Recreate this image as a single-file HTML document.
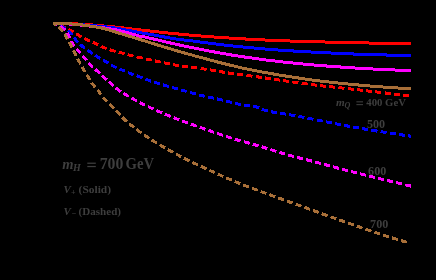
<!DOCTYPE html>
<html><head><meta charset="utf-8"><style>
html,body{margin:0;padding:0;background:#000;}
body{width:436px;height:280px;overflow:hidden;position:relative;}
svg{position:absolute;left:0;top:0;}
#tx{will-change:transform;}
</style></head><body>
<svg width="436" height="280" viewBox="0 0 436 280" shape-rendering="crispEdges" stroke="none">
<path fill="#ff0000" d="M53 22h25v1h-25zM53 23h40v1h-40zM53 24h51v1h-51zM78 25h37v1h-37zM93 26h31v1h-31zM104 27h28v1h-28zM115 28h26v1h-26zM123 29h27v1h-27zM132 30h27v1h-27zM141 31h27v1h-27zM150 32h29v1h-29zM159 33h30v1h-30zM168 34h33v1h-33zM178 35h36v1h-36zM189 36h40v1h-40zM201 37h45v1h-45zM214 38h51v1h-51zM229 39h61v1h-61zM245 40h80v1h-80zM265 41h104v1h-104zM290 42h121v1h-121zM325 43h86v1h-86zM369 44h42v1h-42z"/>
<path fill="#ff0000" d="M53 22h3v1h-3zM53 23h4v1h-4zM53 24h4v1h-4zM60 24h1v1h-1zM55 25h1v1h-1zM60 25h4v1h-4zM59 26h7v1h-7zM61 27h4v1h-4zM63 28h2v1h-2zM69 28h1v1h-1zM68 29h4v1h-4zM68 30h6v1h-6zM70 31h4v1h-4zM72 32h1v1h-1zM76 33h3v1h-3zM76 34h4v1h-4zM76 35h6v1h-6zM78 36h4v1h-4zM79 37h2v1h-2zM85 37h1v1h-1zM84 38h4v1h-4zM84 39h6v1h-6zM85 40h5v1h-5zM87 41h3v1h-3zM93 41h2v1h-2zM93 42h4v1h-4zM92 43h7v1h-7zM94 44h4v1h-4zM96 45h2v1h-2zM102 45h1v1h-1zM101 46h4v1h-4zM100 47h7v1h-7zM102 48h5v1h-5zM110 48h1v1h-1zM105 49h1v1h-1zM110 49h4v1h-4zM109 50h7v1h-7zM110 51h6v1h-6zM119 51h3v1h-3zM114 52h1v1h-1zM119 52h6v1h-6zM118 53h7v1h-7zM128 53h1v1h-1zM122 54h2v1h-2zM128 54h5v1h-5zM127 55h7v1h-7zM129 56h4v1h-4zM137 56h5v1h-5zM136 57h7v1h-7zM137 58h6v1h-6zM146 58h5v1h-5zM146 59h6v1h-6zM155 59h1v1h-1zM146 60h6v1h-6zM155 60h5v1h-5zM155 61h6v1h-6zM164 61h1v1h-1zM155 62h6v1h-6zM164 62h6v1h-6zM164 63h6v1h-6zM173 63h2v1h-2zM165 64h5v1h-5zM173 64h6v1h-6zM173 65h6v1h-6zM182 65h6v1h-6zM175 66h4v1h-4zM182 66h6v1h-6zM191 66h6v1h-6zM182 67h6v1h-6zM191 67h6v1h-6zM201 67h3v1h-3zM191 68h6v1h-6zM201 68h6v1h-6zM210 68h1v1h-1zM200 69h7v1h-7zM210 69h6v1h-6zM204 70h2v1h-2zM210 70h6v1h-6zM219 70h4v1h-4zM211 71h5v1h-5zM219 71h6v1h-6zM228 71h1v1h-1zM219 72h6v1h-6zM228 72h6v1h-6zM222 73h3v1h-3zM228 73h6v1h-6zM237 73h6v1h-6zM228 74h6v1h-6zM237 74h6v1h-6zM247 74h4v1h-4zM237 75h6v1h-6zM246 75h7v1h-7zM256 75h3v1h-3zM246 76h6v1h-6zM256 76h6v1h-6zM265 76h1v1h-1zM251 77h1v1h-1zM256 77h6v1h-6zM265 77h6v1h-6zM258 78h4v1h-4zM265 78h6v1h-6zM274 78h5v1h-5zM265 79h6v1h-6zM274 79h6v1h-6zM283 79h3v1h-3zM274 80h6v1h-6zM283 80h6v1h-6zM279 81h1v1h-1zM283 81h6v1h-6zM292 81h7v1h-7zM286 82h3v1h-3zM292 82h6v1h-6zM302 82h5v1h-5zM293 83h5v1h-5zM302 83h6v1h-6zM311 83h4v1h-4zM301 84h7v1h-7zM311 84h6v1h-6zM320 84h3v1h-3zM311 85h6v1h-6zM320 85h6v1h-6zM329 85h4v1h-4zM315 86h2v1h-2zM320 86h6v1h-6zM329 86h6v1h-6zM339 86h3v1h-3zM323 87h3v1h-3zM329 87h6v1h-6zM338 87h7v1h-7zM348 87h3v1h-3zM333 88h2v1h-2zM338 88h6v1h-6zM348 88h6v1h-6zM357 88h3v1h-3zM342 89h2v1h-2zM348 89h6v1h-6zM357 89h6v1h-6zM366 89h2v1h-2zM351 90h3v1h-3zM357 90h6v1h-6zM366 90h6v1h-6zM375 90h2v1h-2zM360 91h3v1h-3zM366 91h6v1h-6zM375 91h6v1h-6zM385 91h1v1h-1zM368 92h4v1h-4zM375 92h6v1h-6zM385 92h6v1h-6zM377 93h4v1h-4zM385 93h6v1h-6zM394 93h6v1h-6zM385 94h6v1h-6zM394 94h6v1h-6zM403 94h6v1h-6zM394 95h6v1h-6zM403 95h6v1h-6zM403 96h6v1h-6z"/>
<path fill="#0000ff" d="M53 22h18v1h-18zM53 23h32v1h-32zM53 24h44v1h-44zM71 25h36v1h-36zM85 26h30v1h-30zM97 27h24v1h-24zM107 28h19v1h-19zM114 29h18v1h-18zM121 30h16v1h-16zM126 31h16v1h-16zM131 32h17v1h-17zM137 33h17v1h-17zM142 34h17v1h-17zM148 35h17v1h-17zM154 36h16v1h-16zM159 37h17v1h-17zM164 38h20v1h-20zM170 39h23v1h-23zM176 40h24v1h-24zM184 41h24v1h-24zM193 42h23v1h-23zM200 43h24v1h-24zM208 44h25v1h-25zM216 45h27v1h-27zM224 46h30v1h-30zM233 47h32v1h-32zM243 48h35v1h-35zM254 49h40v1h-40zM265 50h46v1h-46zM278 51h53v1h-53zM293 52h61v1h-61zM311 53h76v1h-76zM331 54h80v1h-80zM353 55h58v1h-58zM386 56h25v1h-25z"/>
<path fill="#0000ff" d="M53 22h4v1h-4zM53 23h4v1h-4zM53 24h4v1h-4zM56 25h1v1h-1zM60 25h3v1h-3zM60 26h5v1h-5zM61 27h5v1h-5zM62 28h3v1h-3zM64 29h1v1h-1zM68 30h2v1h-2zM67 31h4v1h-4zM68 32h4v1h-4zM69 33h4v1h-4zM70 34h3v1h-3zM74 37h2v1h-2zM73 38h4v1h-4zM74 39h3v1h-3zM74 40h4v1h-4zM75 41h4v1h-4zM76 42h2v1h-2zM80 44h3v1h-3zM79 45h5v1h-5zM80 46h5v1h-5zM81 47h4v1h-4zM83 48h2v1h-2zM88 49h1v1h-1zM87 50h4v1h-4zM87 51h5v1h-5zM88 52h5v1h-5zM90 53h3v1h-3zM91 54h1v1h-1zM96 54h1v1h-1zM95 55h3v1h-3zM94 56h6v1h-6zM96 57h5v1h-5zM97 58h3v1h-3zM99 59h1v1h-1zM103 59h2v1h-2zM103 60h4v1h-4zM103 61h6v1h-6zM104 62h5v1h-5zM106 63h2v1h-2zM111 64h2v1h-2zM111 65h4v1h-4zM111 66h6v1h-6zM113 67h4v1h-4zM115 68h1v1h-1zM120 68h2v1h-2zM119 69h6v1h-6zM119 70h6v1h-6zM122 71h3v1h-3zM128 71h1v1h-1zM128 72h4v1h-4zM128 73h6v1h-6zM129 74h5v1h-5zM137 74h1v1h-1zM131 75h2v1h-2zM137 75h3v1h-3zM136 76h7v1h-7zM137 77h6v1h-6zM140 78h2v1h-2zM146 78h2v1h-2zM145 79h6v1h-6zM145 80h6v1h-6zM148 81h3v1h-3zM154 81h3v1h-3zM150 82h1v1h-1zM154 82h6v1h-6zM154 83h6v1h-6zM163 83h1v1h-1zM157 84h3v1h-3zM163 84h4v1h-4zM163 85h6v1h-6zM163 86h6v1h-6zM172 86h2v1h-2zM167 87h2v1h-2zM172 87h6v1h-6zM172 88h6v1h-6zM174 89h4v1h-4zM181 89h4v1h-4zM181 90h6v1h-6zM181 91h6v1h-6zM190 91h2v1h-2zM185 92h1v1h-1zM190 92h6v1h-6zM190 93h6v1h-6zM192 94h4v1h-4zM199 94h5v1h-5zM199 95h6v1h-6zM199 96h6v1h-6zM208 96h5v1h-5zM203 97h1v1h-1zM208 97h6v1h-6zM217 97h1v1h-1zM208 98h6v1h-6zM217 98h5v1h-5zM213 99h1v1h-1zM217 99h6v1h-6zM217 100h6v1h-6zM226 100h4v1h-4zM222 101h1v1h-1zM226 101h6v1h-6zM226 102h6v1h-6zM235 102h3v1h-3zM230 103h2v1h-2zM235 103h6v1h-6zM235 104h6v1h-6zM244 104h6v1h-6zM238 105h3v1h-3zM244 105h6v1h-6zM253 105h4v1h-4zM244 106h6v1h-6zM253 106h7v1h-7zM253 107h6v1h-6zM256 108h3v1h-3zM262 108h2v1h-2zM262 109h6v1h-6zM261 110h7v1h-7zM271 110h2v1h-2zM264 111h4v1h-4zM271 111h6v1h-6zM271 112h6v1h-6zM280 112h5v1h-5zM272 113h5v1h-5zM280 113h6v1h-6zM289 113h2v1h-2zM280 114h6v1h-6zM289 114h7v1h-7zM285 115h1v1h-1zM289 115h6v1h-6zM299 115h3v1h-3zM291 116h4v1h-4zM298 116h7v1h-7zM298 117h6v1h-6zM308 117h4v1h-4zM302 118h2v1h-2zM307 118h7v1h-7zM307 119h6v1h-6zM317 119h5v1h-5zM312 120h1v1h-1zM317 120h6v1h-6zM326 120h1v1h-1zM317 121h6v1h-6zM326 121h6v1h-6zM326 122h6v1h-6zM335 122h2v1h-2zM327 123h5v1h-5zM335 123h6v1h-6zM335 124h6v1h-6zM344 124h4v1h-4zM337 125h4v1h-4zM344 125h6v1h-6zM344 126h6v1h-6zM353 126h6v1h-6zM347 127h3v1h-3zM353 127h6v1h-6zM362 127h3v1h-3zM353 128h6v1h-6zM362 128h6v1h-6zM362 129h6v1h-6zM371 129h6v1h-6zM364 130h4v1h-4zM371 130h7v1h-7zM381 130h2v1h-2zM371 131h6v1h-6zM381 131h6v1h-6zM376 132h1v1h-1zM380 132h7v1h-7zM390 132h6v1h-6zM383 133h3v1h-3zM390 133h6v1h-6zM399 133h4v1h-4zM390 134h6v1h-6zM399 134h6v1h-6zM408 134h2v1h-2zM399 135h6v1h-6zM408 135h3v1h-3zM402 136h3v1h-3zM408 136h3v1h-3zM409 137h2v1h-2z"/>
<path fill="#ff00ff" d="M53 22h16v1h-16zM53 23h28v1h-28zM53 24h36v1h-36zM69 25h28v1h-28zM80 26h25v1h-25zM89 27h22v1h-22zM97 28h20v1h-20zM105 29h16v1h-16zM111 30h14v1h-14zM116 31h13v1h-13zM121 32h11v1h-11zM125 33h11v1h-11zM128 34h11v1h-11zM132 35h13v1h-13zM136 36h13v1h-13zM139 37h15v1h-15zM145 38h13v1h-13zM149 39h13v1h-13zM153 40h13v1h-13zM158 41h13v1h-13zM162 42h13v1h-13zM166 43h14v1h-14zM170 44h14v1h-14zM175 45h14v1h-14zM179 46h15v1h-15zM184 47h15v1h-15zM189 48h15v1h-15zM194 49h15v1h-15zM199 50h16v1h-16zM204 51h16v1h-16zM209 52h17v1h-17zM214 53h18v1h-18zM220 54h18v1h-18zM226 55h19v1h-19zM231 56h21v1h-21zM238 57h21v1h-21zM244 58h22v1h-22zM252 59h23v1h-23zM259 60h24v1h-24zM266 61h27v1h-27zM275 62h28v1h-28zM283 63h31v1h-31zM293 64h34v1h-34zM303 65h38v1h-38zM314 66h41v1h-41zM326 67h47v1h-47zM340 68h55v1h-55zM355 69h56v1h-56zM373 70h38v1h-38zM395 71h16v1h-16z"/>
<path fill="#ff00ff" d="M53 22h3v1h-3zM53 23h5v1h-5zM53 24h5v1h-5zM56 25h1v1h-1zM61 25h1v1h-1zM60 26h3v1h-3zM60 27h4v1h-4zM61 28h5v1h-5zM62 29h4v1h-4zM63 30h2v1h-2zM68 32h1v1h-1zM66 33h3v1h-3zM66 34h4v1h-4zM67 35h3v1h-3zM67 36h4v1h-4zM68 37h3v1h-3zM68 38h1v1h-1zM70 41h3v1h-3zM70 42h4v1h-4zM71 43h3v1h-3zM71 44h4v1h-4zM72 45h3v1h-3zM73 46h1v1h-1zM77 48h1v1h-1zM76 49h3v1h-3zM76 50h4v1h-4zM77 51h4v1h-4zM78 52h3v1h-3zM79 53h1v1h-1zM83 55h1v1h-1zM82 56h3v1h-3zM82 57h4v1h-4zM83 58h4v1h-4zM84 59h4v1h-4zM85 60h1v1h-1zM89 62h1v1h-1zM88 63h3v1h-3zM88 64h4v1h-4zM89 65h4v1h-4zM90 66h3v1h-3zM91 67h2v1h-2zM96 68h1v1h-1zM95 69h3v1h-3zM94 70h5v1h-5zM95 71h5v1h-5zM97 72h4v1h-4zM98 73h2v1h-2zM102 75h2v1h-2zM101 76h4v1h-4zM102 77h4v1h-4zM103 78h5v1h-5zM104 79h3v1h-3zM105 80h1v1h-1zM109 81h2v1h-2zM108 82h4v1h-4zM109 83h4v1h-4zM110 84h4v1h-4zM111 85h3v1h-3zM112 86h1v1h-1zM116 87h2v1h-2zM115 88h4v1h-4zM115 89h5v1h-5zM117 90h5v1h-5zM118 91h3v1h-3zM119 92h1v1h-1zM124 92h1v1h-1zM123 93h4v1h-4zM123 94h5v1h-5zM124 95h5v1h-5zM126 96h3v1h-3zM132 97h2v1h-2zM131 98h4v1h-4zM131 99h6v1h-6zM133 100h4v1h-4zM135 101h2v1h-2zM140 101h1v1h-1zM140 102h3v1h-3zM139 103h6v1h-6zM140 104h5v1h-5zM142 105h3v1h-3zM148 105h1v1h-1zM148 106h3v1h-3zM148 107h6v1h-6zM149 108h5v1h-5zM151 109h2v1h-2zM157 109h1v1h-1zM156 110h4v1h-4zM156 111h7v1h-7zM157 112h5v1h-5zM160 113h2v1h-2zM165 113h2v1h-2zM165 114h5v1h-5zM164 115h7v1h-7zM167 116h4v1h-4zM174 116h1v1h-1zM169 117h1v1h-1zM174 117h3v1h-3zM173 118h7v1h-7zM174 119h5v1h-5zM177 120h2v1h-2zM182 120h3v1h-3zM182 121h6v1h-6zM182 122h6v1h-6zM185 123h3v1h-3zM191 123h3v1h-3zM191 124h5v1h-5zM190 125h7v1h-7zM193 126h4v1h-4zM200 126h2v1h-2zM200 127h5v1h-5zM199 128h7v1h-7zM202 129h3v1h-3zM209 129h2v1h-2zM204 130h1v1h-1zM208 130h5v1h-5zM208 131h6v1h-6zM210 132h4v1h-4zM217 132h2v1h-2zM213 133h1v1h-1zM217 133h5v1h-5zM217 134h6v1h-6zM219 135h4v1h-4zM226 135h2v1h-2zM222 136h1v1h-1zM226 136h5v1h-5zM226 137h6v1h-6zM228 138h4v1h-4zM235 138h3v1h-3zM235 139h6v1h-6zM234 140h7v1h-7zM244 140h1v1h-1zM237 141h3v1h-3zM244 141h5v1h-5zM244 142h6v1h-6zM245 143h5v1h-5zM253 143h3v1h-3zM248 144h1v1h-1zM253 144h6v1h-6zM252 145h7v1h-7zM262 145h1v1h-1zM255 146h3v1h-3zM262 146h4v1h-4zM261 147h7v1h-7zM262 148h5v1h-5zM271 148h1v1h-1zM265 149h2v1h-2zM270 149h5v1h-5zM270 150h7v1h-7zM272 151h4v1h-4zM280 151h2v1h-2zM275 152h1v1h-1zM279 152h6v1h-6zM279 153h6v1h-6zM281 154h4v1h-4zM288 154h4v1h-4zM288 155h6v1h-6zM288 156h6v1h-6zM297 156h3v1h-3zM292 157h2v1h-2zM297 157h6v1h-6zM297 158h6v1h-6zM306 158h2v1h-2zM299 159h4v1h-4zM306 159h6v1h-6zM306 160h6v1h-6zM307 161h5v1h-5zM315 161h4v1h-4zM311 162h1v1h-1zM315 162h6v1h-6zM315 163h6v1h-6zM324 163h3v1h-3zM319 164h2v1h-2zM324 164h6v1h-6zM324 165h6v1h-6zM333 165h1v1h-1zM326 166h4v1h-4zM333 166h5v1h-5zM333 167h6v1h-6zM334 168h5v1h-5zM342 168h3v1h-3zM337 169h2v1h-2zM342 169h6v1h-6zM342 170h6v1h-6zM351 170h2v1h-2zM345 171h3v1h-3zM351 171h6v1h-6zM351 172h6v1h-6zM360 172h1v1h-1zM353 173h4v1h-4zM360 173h5v1h-5zM360 174h6v1h-6zM361 175h5v1h-5zM369 175h4v1h-4zM365 176h1v1h-1zM369 176h6v1h-6zM369 177h6v1h-6zM378 177h3v1h-3zM373 178h2v1h-2zM378 178h6v1h-6zM378 179h6v1h-6zM387 179h3v1h-3zM381 180h3v1h-3zM387 180h6v1h-6zM387 181h6v1h-6zM396 181h2v1h-2zM389 182h4v1h-4zM396 182h6v1h-6zM396 183h6v1h-6zM398 184h4v1h-4zM405 184h6v1h-6zM405 185h6v1h-6zM406 186h5v1h-5zM410 187h1v1h-1z"/>
<path fill="#a86f38" d="M53 22h19v1h-19zM53 23h30v1h-30zM53 24h37v1h-37zM72 25h24v1h-24zM82 26h20v1h-20zM90 27h16v1h-16zM96 28h13v1h-13zM101 29h11v1h-11zM105 30h11v1h-11zM109 31h10v1h-10zM112 32h10v1h-10zM115 33h11v1h-11zM118 34h11v1h-11zM122 35h10v1h-10zM125 36h10v1h-10zM128 37h11v1h-11zM132 38h10v1h-10zM135 39h10v1h-10zM138 40h10v1h-10zM141 41h10v1h-10zM145 42h10v1h-10zM148 43h10v1h-10zM151 44h10v1h-10zM154 45h10v1h-10zM157 46h11v1h-11zM161 47h10v1h-10zM164 48h10v1h-10zM167 49h11v1h-11zM171 50h10v1h-10zM174 51h11v1h-11zM177 52h11v1h-11zM181 53h11v1h-11zM184 54h11v1h-11zM188 55h11v1h-11zM192 56h11v1h-11zM195 57h12v1h-12zM199 58h11v1h-11zM203 59h11v1h-11zM206 60h12v1h-12zM210 61h12v1h-12zM214 62h12v1h-12zM217 63h13v1h-13zM221 64h13v1h-13zM225 65h13v1h-13zM229 66h13v1h-13zM234 67h13v1h-13zM238 68h14v1h-14zM242 69h15v1h-15zM247 70h15v1h-15zM252 71h16v1h-16zM257 72h17v1h-17zM262 73h17v1h-17zM268 74h18v1h-18zM273 75h19v1h-19zM279 76h20v1h-20zM285 77h20v1h-20zM292 78h20v1h-20zM298 79h22v1h-22zM305 80h24v1h-24zM312 81h26v1h-26zM320 82h28v1h-28zM329 83h30v1h-30zM338 84h32v1h-32zM348 85h35v1h-35zM358 86h40v1h-40zM370 87h41v1h-41zM383 88h28v1h-28zM398 89h13v1h-13z"/>
<path fill="#a86f38" d="M53 22h2v1h-2zM53 23h4v1h-4zM53 24h3v1h-3zM54 25h2v1h-2zM59 26h1v1h-1zM58 27h3v1h-3zM58 28h4v1h-4zM59 29h4v1h-4zM60 30h4v1h-4zM61 31h2v1h-2zM65 33h1v1h-1zM64 34h3v1h-3zM64 35h3v1h-3zM64 36h4v1h-4zM65 37h3v1h-3zM65 38h4v1h-4zM66 39h1v1h-1zM68 42h3v1h-3zM68 43h4v1h-4zM69 44h3v1h-3zM69 45h4v1h-4zM70 46h3v1h-3zM70 47h2v1h-2zM73 50h2v1h-2zM72 51h4v1h-4zM73 52h3v1h-3zM73 53h4v1h-4zM74 54h3v1h-3zM74 55h3v1h-3zM78 58h1v1h-1zM76 59h4v1h-4zM77 60h3v1h-3zM77 61h4v1h-4zM78 62h3v1h-3zM79 63h2v1h-2zM79 64h1v1h-1zM83 66h1v1h-1zM81 67h3v1h-3zM81 68h4v1h-4zM82 69h3v1h-3zM82 70h4v1h-4zM83 71h3v1h-3zM87 74h1v1h-1zM86 75h3v1h-3zM86 76h4v1h-4zM87 77h3v1h-3zM87 78h4v1h-4zM88 79h3v1h-3zM92 82h1v1h-1zM90 83h4v1h-4zM91 84h4v1h-4zM92 85h4v1h-4zM93 86h3v1h-3zM93 87h2v1h-2zM98 89h1v1h-1zM97 90h3v1h-3zM97 91h4v1h-4zM98 92h3v1h-3zM98 93h4v1h-4zM99 94h2v1h-2zM103 97h2v1h-2zM102 98h4v1h-4zM103 99h4v1h-4zM104 100h4v1h-4zM105 101h2v1h-2zM110 103h1v1h-1zM109 104h3v1h-3zM109 105h4v1h-4zM110 106h4v1h-4zM111 107h4v1h-4zM112 108h2v1h-2zM116 110h2v1h-2zM115 111h4v1h-4zM116 112h4v1h-4zM117 113h4v1h-4zM118 114h3v1h-3zM119 115h1v1h-1zM123 116h1v1h-1zM122 117h3v1h-3zM121 118h5v1h-5zM122 119h5v1h-5zM123 120h5v1h-5zM124 121h3v1h-3zM129 123h2v1h-2zM129 124h4v1h-4zM129 125h5v1h-5zM130 126h5v1h-5zM132 127h2v1h-2zM137 128h1v1h-1zM136 129h3v1h-3zM136 130h4v1h-4zM137 131h5v1h-5zM138 132h4v1h-4zM140 133h1v1h-1zM144 134h2v1h-2zM144 135h4v1h-4zM144 136h5v1h-5zM145 137h5v1h-5zM147 138h2v1h-2zM152 139h2v1h-2zM151 140h4v1h-4zM151 141h6v1h-6zM153 142h4v1h-4zM155 143h2v1h-2zM160 144h2v1h-2zM159 145h5v1h-5zM160 146h6v1h-6zM161 147h4v1h-4zM163 148h2v1h-2zM168 148h1v1h-1zM168 149h3v1h-3zM167 150h6v1h-6zM168 151h6v1h-6zM170 152h3v1h-3zM176 153h2v1h-2zM176 154h4v1h-4zM176 155h6v1h-6zM178 156h3v1h-3zM179 157h2v1h-2zM184 157h2v1h-2zM184 158h4v1h-4zM183 159h7v1h-7zM185 160h5v1h-5zM187 161h2v1h-2zM193 161h1v1h-1zM192 162h4v1h-4zM192 163h6v1h-6zM193 164h5v1h-5zM196 165h2v1h-2zM201 165h2v1h-2zM201 166h4v1h-4zM200 167h7v1h-7zM202 168h5v1h-5zM204 169h2v1h-2zM210 169h1v1h-1zM209 170h5v1h-5zM209 171h6v1h-6zM211 172h4v1h-4zM213 173h1v1h-1zM218 173h2v1h-2zM218 174h4v1h-4zM217 175h7v1h-7zM220 176h3v1h-3zM222 177h1v1h-1zM226 177h3v1h-3zM226 178h6v1h-6zM226 179h6v1h-6zM229 180h3v1h-3zM235 180h1v1h-1zM235 181h4v1h-4zM234 182h7v1h-7zM236 183h4v1h-4zM238 184h2v1h-2zM243 184h3v1h-3zM243 185h6v1h-6zM243 186h6v1h-6zM246 187h3v1h-3zM252 187h2v1h-2zM252 188h5v1h-5zM252 189h6v1h-6zM254 190h4v1h-4zM261 190h1v1h-1zM261 191h4v1h-4zM260 192h7v1h-7zM262 193h4v1h-4zM270 193h1v1h-1zM265 194h1v1h-1zM269 194h4v1h-4zM269 195h7v1h-7zM270 196h5v1h-5zM273 197h2v1h-2zM278 197h4v1h-4zM278 198h6v1h-6zM278 199h6v1h-6zM281 200h3v1h-3zM287 200h3v1h-3zM287 201h6v1h-6zM287 202h6v1h-6zM289 203h3v1h-3zM296 203h2v1h-2zM296 204h5v1h-5zM295 205h7v1h-7zM298 206h3v1h-3zM305 206h2v1h-2zM304 207h5v1h-5zM304 208h6v1h-6zM306 209h4v1h-4zM313 209h2v1h-2zM309 210h1v1h-1zM313 210h5v1h-5zM313 211h6v1h-6zM314 212h5v1h-5zM322 212h1v1h-1zM317 213h1v1h-1zM322 213h4v1h-4zM321 214h7v1h-7zM322 215h6v1h-6zM325 216h2v1h-2zM331 216h3v1h-3zM330 217h7v1h-7zM331 218h5v1h-5zM334 219h2v1h-2zM339 219h4v1h-4zM339 220h6v1h-6zM339 221h6v1h-6zM342 222h3v1h-3zM348 222h3v1h-3zM348 223h6v1h-6zM348 224h6v1h-6zM351 225h3v1h-3zM357 225h3v1h-3zM357 226h5v1h-5zM356 227h7v1h-7zM359 228h3v1h-3zM366 228h2v1h-2zM365 229h6v1h-6zM365 230h7v1h-7zM368 231h3v1h-3zM375 231h2v1h-2zM374 232h6v1h-6zM374 233h6v1h-6zM377 234h3v1h-3zM383 234h3v1h-3zM383 235h6v1h-6zM383 236h6v1h-6zM392 236h1v1h-1zM386 237h3v1h-3zM392 237h4v1h-4zM392 238h6v1h-6zM392 239h6v1h-6zM401 239h2v1h-2zM396 240h2v1h-2zM401 240h5v1h-5zM401 241h6v1h-6zM402 242h5v1h-5z"/>
</svg>
<svg id="tx" width="436" height="280" viewBox="0 0 436 280" font-family="'Liberation Serif', serif" font-weight="bold" fill="#3e3e3e">
<text x="62.3" y="169.0" font-size="14.5" font-style="italic">m</text>
<text x="73.0" y="171.0" font-size="10" font-style="italic">H</text>
<text x="99.7" y="168.9" font-size="15.8" textLength="23.6" lengthAdjust="spacingAndGlyphs">700</text>
<text x="125.6" y="168.9" font-size="15.8" textLength="28.6" lengthAdjust="spacingAndGlyphs">GeV</text>
<text x="63.5" y="192.6" font-size="11" font-style="italic">V</text>
<text x="71.0" y="195.2" font-size="8">+</text>
<text x="78.6" y="192.6" font-size="11" textLength="32.4" lengthAdjust="spacingAndGlyphs">(Solid)</text>
<text x="63.5" y="214.6" font-size="11" font-style="italic">V</text>
<text x="71.8" y="215.8" font-size="8">−</text>
<text x="78.6" y="214.6" font-size="11" textLength="42.4" lengthAdjust="spacingAndGlyphs">(Dashed)</text>
<text x="335.9" y="105.7" font-size="11.2" font-style="italic">m</text>
<text x="344.6" y="108.2" font-size="8" font-style="italic">Q</text>
<text x="366.3" y="105.8" font-size="11.3" textLength="39.6" lengthAdjust="spacingAndGlyphs">400 GeV</text>
<text x="366.9" y="127.8" font-size="12" textLength="18.2" lengthAdjust="spacingAndGlyphs">500</text>
<text x="368.1" y="174.5" font-size="12" textLength="18.2" lengthAdjust="spacingAndGlyphs">600</text>
<text x="370.1" y="227.6" font-size="12" textLength="18.2" lengthAdjust="spacingAndGlyphs">700</text>
<rect x="87.3" y="162.6" width="8.5" height="1.25"/><rect x="87.3" y="165.9" width="8.5" height="1.25"/>
<rect x="356.4" y="101.3" width="6.6" height="1.05"/><rect x="356.4" y="104.1" width="6.6" height="1.05"/>
</svg>
</body></html>
